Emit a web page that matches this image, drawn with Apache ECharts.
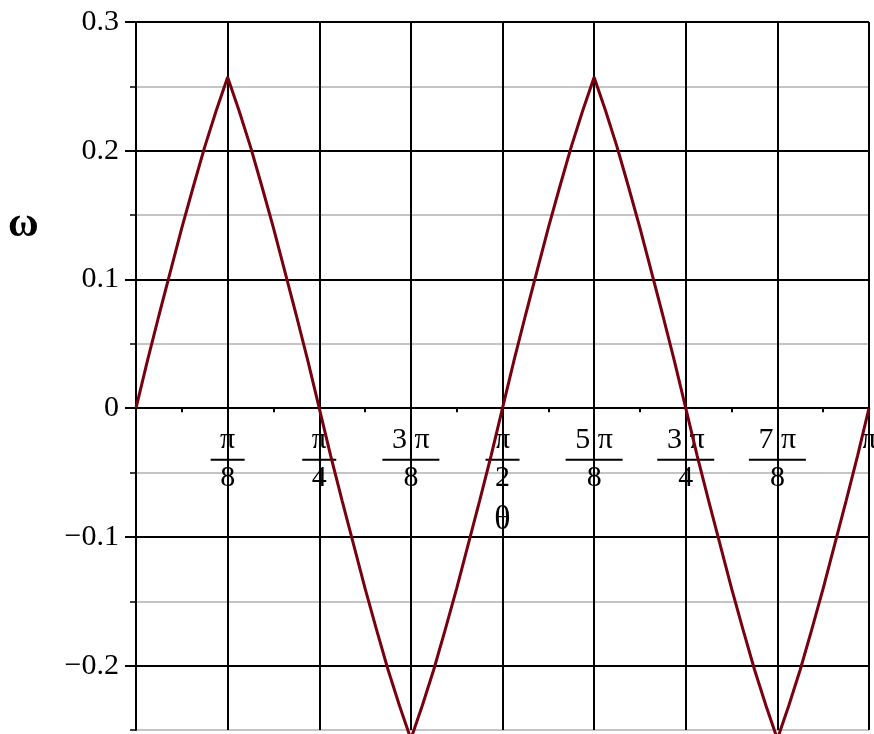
<!DOCTYPE html>
<html>
<head>
<meta charset="utf-8">
<script src="https://cdn.jsdelivr.net/npm/echarts@6/dist/echarts.min.js"></script>
<style>
  html, body { margin: 0; padding: 0; background: #fff; }
  #chart { width: 874px; height: 734px; }
</style>
</head>
<body>
<div id="chart"></div>
<script>
// θ sample positions, in multiples of π (steps of π/64)
const thetaOverPi = [
  0/64, 1/64, 2/64, 3/64, 4/64, 5/64, 6/64, 7/64, 8/64,
  9/64, 10/64, 11/64, 12/64, 13/64, 14/64, 15/64, 16/64,
  17/64, 18/64, 19/64, 20/64, 21/64, 22/64, 23/64, 24/64,
  25/64, 26/64, 27/64, 28/64, 29/64, 30/64, 31/64, 32/64,
  33/64, 34/64, 35/64, 36/64, 37/64, 38/64, 39/64, 40/64,
  41/64, 42/64, 43/64, 44/64, 45/64, 46/64, 47/64, 48/64,
  49/64, 50/64, 51/64, 52/64, 53/64, 54/64, 55/64, 56/64,
  57/64, 58/64, 59/64, 60/64, 61/64, 62/64, 63/64, 64/64
];

// ω at each θ sample
const omega = [
  0, 0.037, 0.072, 0.106, 0.140, 0.172, 0.203, 0.231, 0.257,
  0.231, 0.203, 0.172, 0.140, 0.106, 0.072, 0.037, 0,
  -0.037, -0.072, -0.106, -0.140, -0.172, -0.203, -0.231, -0.257,
  -0.231, -0.203, -0.172, -0.140, -0.106, -0.072, -0.037, 0,
  0.037, 0.072, 0.106, 0.140, 0.172, 0.203, 0.231, 0.257,
  0.231, 0.203, 0.172, 0.140, 0.106, 0.072, 0.037, 0,
  -0.037, -0.072, -0.106, -0.140, -0.172, -0.203, -0.231, -0.257,
  -0.231, -0.203, -0.172, -0.140, -0.106, -0.072, -0.037, 0
];

// θ tick labels at multiples of π/8, written as fractions
const xTickNumerators   = ['', 'π', 'π', '3 π', 'π', '5 π', '3 π', '7 π', 'π'];
const xTickDenominators = ['', '8', '4', '8', '2', '8', '4', '8', ''];

// labelled ω ticks
const yMajorTicks = [-0.2, -0.1, 0, 0.1, 0.2, 0.3];

const SERIF = "'Liberation Serif', 'Times New Roman', serif";
const LINE_COLOR = '#78000E';
const LABEL_SIZE = 30;

const points = thetaOverPi.map((t, i) => [t, omega[i]]);

function yLabel(v) {
  if (Math.abs(v) < 1e-9) return '0';
  const s = Math.abs(v).toFixed(1);
  return v < 0 ? '\u2212' + s : s;
}

function xLabel(v) {
  const k = Math.round(v * 8);
  const num = xTickNumerators[k] || '';
  const den = xTickDenominators[k] || '';
  if (!num) return '';
  if (!den) return '{n|' + num + '}';
  const bar = num.length > 1 ? 'bw' : 'bn';
  return '{n|' + num + '}\n{' + bar + '| }\n{d|' + den + '}';
}

const chart = echarts.init(document.getElementById('chart'), null, { renderer: 'canvas' });

const xAxisOption = {
  type: 'value',
  min: 0,
  max: 1,
  interval: 0.125,
  position: 'bottom',
  offset: 0,
  name: 'θ',
  nameLocation: 'middle',
  nameGap: 97,
  nameTextStyle: { fontFamily: SERIF, fontSize: 34, color: '#000', lineHeight: 30 },
  axisLine: { onZero: false, lineStyle: { color: '#000', width: 2 } },
  axisTick: { show: false },
  minorTick: { show: true, splitNumber: 2, length: 4, lineStyle: { color: '#000', width: 2 } },
  minorSplitLine: { show: false },
  splitLine: { show: true, lineStyle: { color: '#000', width: 2 } },
  axisLabel: {
    margin: 20,
    color: '#000',
    fontFamily: SERIF,
    fontSize: LABEL_SIZE,
    showMinLabel: false,
    hideOverlap: false,
    formatter: xLabel,
    rich: {
      n:  { fontFamily: SERIF, fontSize: LABEL_SIZE, lineHeight: 24, color: '#000', align: 'center' },
      bn: { width: 34, height: 2, lineHeight: 15, backgroundColor: '#000', align: 'center', fontSize: 2 },
      bw: { width: 57, height: 2, lineHeight: 15, backgroundColor: '#000', align: 'center', fontSize: 2 },
      d:  { fontFamily: SERIF, fontSize: LABEL_SIZE, lineHeight: 21, color: '#000', align: 'center' }
    }
  }
};

chart.setOption({
  animation: false,
  backgroundColor: '#fff',
  grid: { left: 136, right: 5, top: 22, bottom: 4, containLabel: false, outerBoundsMode: 'none' },
  xAxis: xAxisOption,
  yAxis: [
    {
      type: 'value',
      min: -0.25,
      max: 0.3,
      interval: 0.05,
      axisLine: { show: true, lineStyle: { color: '#000', width: 2 } },
      axisTick: { show: true, length: 6, lineStyle: { color: '#000', width: 1.5 } },
      axisLabel: { show: false },
      splitLine: { show: true, lineStyle: { color: ['#c4c4c4', '#000'], width: 2 } }
    },
    {
      type: 'value',
      min: -0.25,
      max: 0.3,
      interval: 0.05,
      position: 'left',
      offset: 0,
      axisLine: { show: false },
      splitLine: { show: false },
      axisTick: { show: true, length: 11, customValues: yMajorTicks, lineStyle: { color: '#000', width: 2 } },
      axisLabel: {
        show: true,
        customValues: yMajorTicks,
        margin: 17,
        color: '#000',
        fontFamily: SERIF,
        fontSize: LABEL_SIZE,
        formatter: yLabel
      }
    }
  ],
  graphic: [
    {
      type: 'text',
      left: 8,
      top: 204,
      style: { text: 'ω', font: 'bold 42px ' + SERIF, fill: '#000' }
    }
  ],
  series: [
    {
      type: 'line',
      data: points,
      showSymbol: false,
      clip: false,
      lineStyle: { color: LINE_COLOR, width: 3 },
      z: 5
    }
  ]
});

// Lift the θ axis (line, ticks, labels, name) from the grid edge up to ω = 0.
const yMin = chart.getModel().getComponent('yAxis', 0).axis.scale.getExtent()[0];
const zeroPx = chart.convertToPixel({ yAxisIndex: 0 }, 0);
const edgePx = chart.convertToPixel({ yAxisIndex: 0 }, yMin);
chart.setOption({ xAxis: { offset: -(edgePx - zeroPx) } });
</script>
</body>
</html>
